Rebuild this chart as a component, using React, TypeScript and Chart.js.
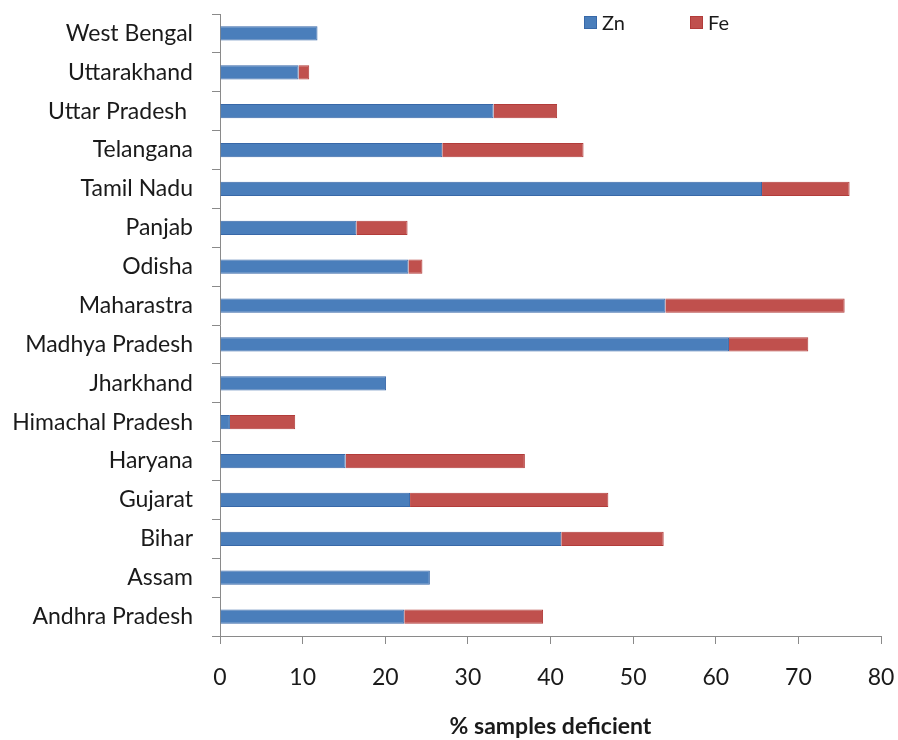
import React, { useEffect, useRef } from "react";
import { Chart, registerables } from "chart.js";

Chart.register(...registerables);

// States, listed top to bottom as drawn
const states = [
  "West Bengal",
  "Uttarakhand",
  "Uttar Pradesh ",
  "Telangana",
  "Tamil Nadu",
  "Panjab",
  "Odisha",
  "Maharastra",
  "Madhya Pradesh",
  "Jharkhand",
  "Himachal Pradesh",
  "Haryana",
  "Gujarat",
  "Bihar",
  "Assam",
  "Andhra Pradesh",
];

// % samples deficient in zinc
const znValues = [11.8, 9.5, 33.1, 26.9, 65.6, 16.5, 22.8, 53.9, 61.6, 20.1, 1.2, 15.2, 23.0, 41.3, 25.4, 22.3];
// % samples deficient in iron (stacked after zinc)
const feValues = [0, 1.3, 7.7, 17.1, 10.6, 6.2, 1.7, 21.7, 9.6, 0, 7.9, 21.7, 24.0, 12.4, 0, 16.8];

const xTicks = [0, 10, 20, 30, 40, 50, 60, 70, 80];

const FONT = "Lato, 'Open Sans', sans-serif";
const TEXT = "#1a1a1a";
const AXIS = "#8a8a8a";

// Legend drawn inside the plot area, top right
const insideLegend = {
  id: "insideLegend",
  afterDraw(chart: any) {
    const ctx = chart.ctx;
    const items = [
      { ds: chart.data.datasets[0], x: 584 },
      { ds: chart.data.datasets[1], x: 690 },
    ];
    const y = 22.5;
    ctx.save();
    ctx.font = `20px ${FONT}`;
    ctx.textBaseline = "middle";
    ctx.textAlign = "left";
    for (const it of items) {
      ctx.fillStyle = it.ds.backgroundColor;
      ctx.fillRect(it.x, y - 6.5, 13, 13);
      ctx.strokeStyle = it.ds.borderColor;
      ctx.lineWidth = 1;
      ctx.strokeRect(it.x + 0.5, y - 6, 12, 12);
      ctx.fillStyle = TEXT;
      ctx.fillText(it.ds.label, it.x + 18, y + 1);
    }
    ctx.restore();
  },
};

export default function App() {
  const canvasRef = useRef<HTMLCanvasElement | null>(null);

  useEffect(() => {
    if (!canvasRef.current) return;
    const chart = new Chart(canvasRef.current, {
      type: "bar",
      data: {
        labels: states,
        datasets: [
          {
            label: "Zn",
            data: znValues,
            backgroundColor: "#4a7ebb",
            borderColor: "#3868a8",
            borderWidth: 1,
            barPercentage: 0.9,
            categoryPercentage: 0.41,
          },
          {
            label: "Fe",
            data: feValues,
            backgroundColor: "#c0504d",
            borderColor: "#b23c3a",
            borderWidth: 1,
            barPercentage: 0.9,
            categoryPercentage: 0.41,
          },
        ],
      },
      options: {
        indexAxis: "y",
        animation: false,
        responsive: false,
        maintainAspectRatio: false,
        layout: { padding: { top: 14, right: 17, left: 0, bottom: 0 } },
        plugins: {
          legend: { display: false },
          tooltip: { enabled: false },
        },
        scales: {
          x: {
            stacked: true,
            min: 0,
            max: 80,
            afterBuildTicks: (scale: any) => {
              scale.ticks = xTicks.map((v) => ({ value: v }));
            },
            afterFit: (scale: any) => {
              scale.height = 104;
              scale.paddingLeft = 0;
              scale.paddingRight = 0;
            },
            grid: {
              drawOnChartArea: false,
              drawTicks: true,
              tickLength: 8,
              color: AXIS,
            },
            border: { display: true, color: AXIS, width: 1 },
            ticks: {
              color: TEXT,
              font: { family: FONT, size: 23 },
              padding: 20,
            },
            title: {
              display: true,
              text: "% samples deficient",
              color: TEXT,
              font: { family: FONT, size: 23, weight: "bold" },
              padding: { top: 0, bottom: 0 },
            },
          },
          y: {
            stacked: true,
            afterFit: (scale: any) => {
              scale.width = 220;
              scale.paddingTop = 0;
              scale.paddingBottom = 0;
            },
            grid: {
              drawOnChartArea: false,
              drawTicks: true,
              tickLength: 8,
              offset: true,
              color: AXIS,
            },
            border: { display: true, color: AXIS, width: 1 },
            ticks: {
              color: TEXT,
              font: { family: FONT, size: 23 },
              padding: 19,
              autoSkip: false,
            },
          },
        },
      },
      plugins: [insideLegend],
    });
    return () => chart.destroy();
  }, []);

  return (
    <div style={{ position: "fixed", left: 0, top: 0, width: 898, height: 740, background: "#fff" }}>
      <canvas ref={canvasRef} width={898} height={740} style={{ display: "block" }} />
    </div>
  );
}
